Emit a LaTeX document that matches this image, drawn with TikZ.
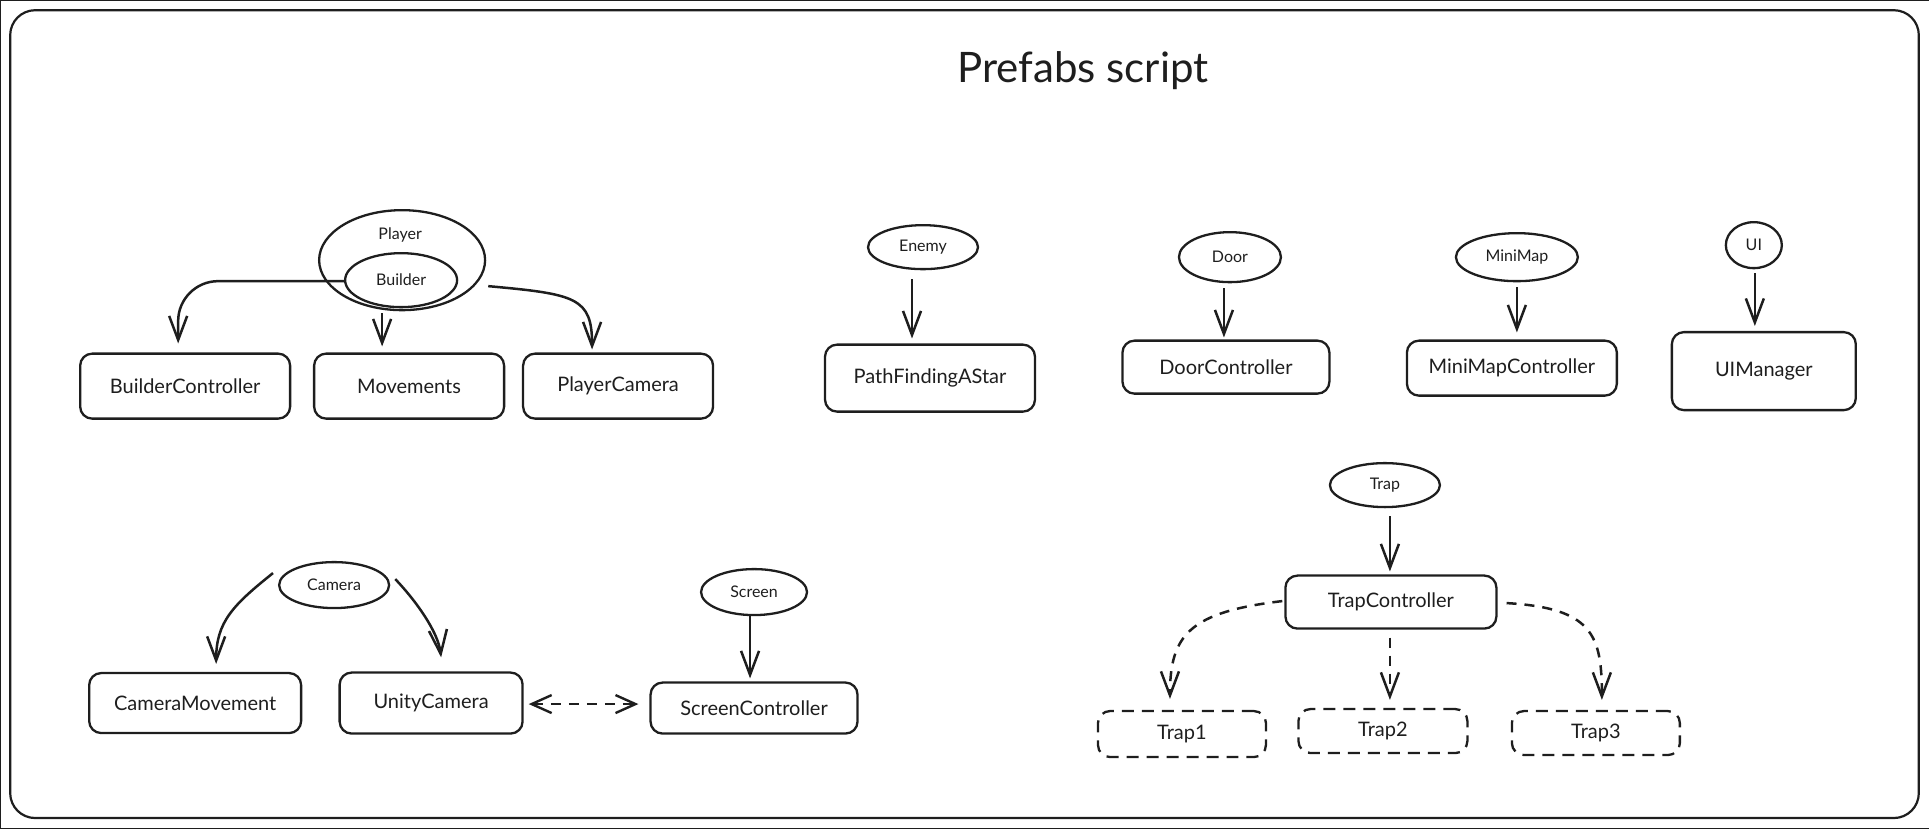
\documentclass[tikz,border=0pt]{standalone}
\usepackage{fontspec}
\setmainfont{Lato}
\usetikzlibrary{arrows.meta,shapes.geometric,calc}
\definecolor{ink}{HTML}{1E1E1E}
\begin{document}
\begin{tikzpicture}[x=1pt,y=-1pt,
  every path/.style={draw=ink},
  box/.style={draw=ink, line width=2.3pt, rounded corners=12pt, font=\fontsize{20}{24}\selectfont, inner sep=0pt, text=ink},
  dbox/.style={box, dash pattern=on 12pt off 8pt},
  oval/.style={draw=ink, ellipse, line width=2.3pt, inner sep=0pt, font=\fontsize{16}{19}\selectfont, text=ink},
  elab/.style={inner sep=0pt, font=\fontsize{16}{19}\selectfont, text=ink},
  arr/.style={line width=2.5pt, -{Straight Barb[length=24pt,width=18pt]}},
  darr/.style={arr, dash pattern=on 10pt off 8pt},
  ddarr/.style={line width=2.4pt, dash pattern=on 10pt off 8pt, {Straight Barb[length=20pt,width=18pt]}-{Straight Barb[length=20pt,width=18pt]}},
]
\useasboundingbox (0,0) rectangle (1929,828);
\draw[line width=2.2pt, rounded corners=25pt] (10,10) rectangle (1919,818);
\node[font=\fontsize{42}{50}\selectfont, text=ink] (title) at (1083,70) {Prefabs script};

% Player group
\node[oval, minimum width=166pt, minimum height=100pt] (player) at (402,260) {};
\node[elab] (playerlbl) at (400,235) {Player};
\node[oval, minimum width=112pt, minimum height=54pt] (builder) at (401,280) {Builder};
\node[box, minimum width=210pt, minimum height=65pt] (bc) at (185,386) {BuilderController};
\node[box, minimum width=190pt, minimum height=65pt] (mov) at (409,386) {Movements};
\node[box, minimum width=190pt, minimum height=65pt] (pcam) at (618,386) {PlayerCamera};

\draw[arr, rounded corners=40pt] ($(builder.west)+(0,1)$) -| ($(bc.north)+(-7,-9)$);
\draw[arr] ($(player.south)+(-20,2)$) -- ($(mov.north)+(-27,-6)$);
\draw[arr] ($(player.east)+(2,26)$) .. controls ($(player.east)+(90,34)$) and ($(pcam.north)+(-26,-55)$) .. ($(pcam.north)+(-26,-3)$);

% Enemy, Door, MiniMap, UI
\node[oval, minimum width=110pt, minimum height=44pt] (enemy) at (923,247) {Enemy};
\node[box, minimum width=210pt, minimum height=67pt] (pfa) at (930,378) {PathFindingAStar};
\draw[arr] ($(enemy.south)+(-11,9)$) -- ($(pfa.north)+(-18,-5)$);

\node[oval, minimum width=102pt, minimum height=50pt] (door) at (1230,257) {Door};
\node[box, minimum width=207pt, minimum height=53pt] (dc) at (1226,367) {DoorController};
\draw[arr] ($(door.south)+(-6,5)$) -- ($(dc.north)+(-2,-2)$);

\node[oval, minimum width=122pt, minimum height=48pt] (minimap) at (1517,257) {MiniMap};
\node[box, minimum width=210pt, minimum height=55pt] (mmc) at (1512,368) {MiniMapController};
\draw[arr] ($(minimap.south)+(0,5)$) -- ($(mmc.north)+(5,-7)$);

\node[oval, minimum width=56pt, minimum height=46pt] (ui) at (1754,245) {UI};
\node[box, minimum width=184pt, minimum height=78pt] (uim) at (1764,371) {UIManager};
\draw[arr] ($(ui.south)+(1,4)$) -- ($(uim.north)+(-9,-5)$);

% Trap group
\node[oval, minimum width=110pt, minimum height=44pt] (trap) at (1385,485) {Trap};
\node[box, minimum width=211pt, minimum height=53pt] (tc) at (1391,602) {TrapController};
\node[dbox, minimum width=168pt, minimum height=46pt] (trap1) at (1182,734) {Trap1};
\node[dbox, minimum width=169pt, minimum height=44pt] (trap2) at (1383,731) {Trap2};
\node[dbox, minimum width=168pt, minimum height=44pt] (trap3) at (1596,733) {Trap3};
\draw[arr] ($(trap.south)+(5,8)$) -- ($(tc.north)+(-1,-3)$);
\draw[darr] ($(tc.west)+(-2,-1)$) .. controls ($(tc.west)+(-95,10)$) and ($(trap1.north)+(-12,-75)$) .. ($(trap1.north)+(-12,-11)$);
\draw[darr] ($(tc.south)+(-1,8)$) -- ($(trap2.north)+(7,-8)$);
\draw[darr] ($(tc.east)+(9,1)$) .. controls ($(tc.east)+(95,6)$) and ($(trap3.north)+(6,-75)$) .. ($(trap3.north)+(6,-10)$);

% Camera group
\node[oval, minimum width=110pt, minimum height=46pt] (camera) at (334,585) {Camera};
\node[box, minimum width=212pt, minimum height=60pt] (cm) at (195,703) {CameraMovement};
\node[box, minimum width=183pt, minimum height=61pt] (uc) at (431,703) {UnityCamera};
\draw[arr] ($(camera.west)+(-5,-12)$) .. controls ($(camera.west)+(-45,20)$) and ($(cm.north)+(21,-50)$) .. ($(cm.north)+(21,-8)$);
\draw[arr] ($(camera.east)+(5,-6)$) .. controls ($(camera.east)+(25,15)$) and ($(uc.north)+(7,-40)$) .. ($(uc.north)+(10,-14)$);

\node[oval, minimum width=106pt, minimum height=46pt] (screen) at (754,592) {Screen};
\node[box, minimum width=207pt, minimum height=51pt] (sc) at (754,708) {ScreenController};
\draw[arr] ($(screen.south)+(-4,0)$) -- ($(sc.north)+(-4,-3)$);
\draw[ddarr] ($(uc.east)+(5,1)$) -- ($(sc.west)+(-11,-4)$);
\end{tikzpicture}
\end{document}
